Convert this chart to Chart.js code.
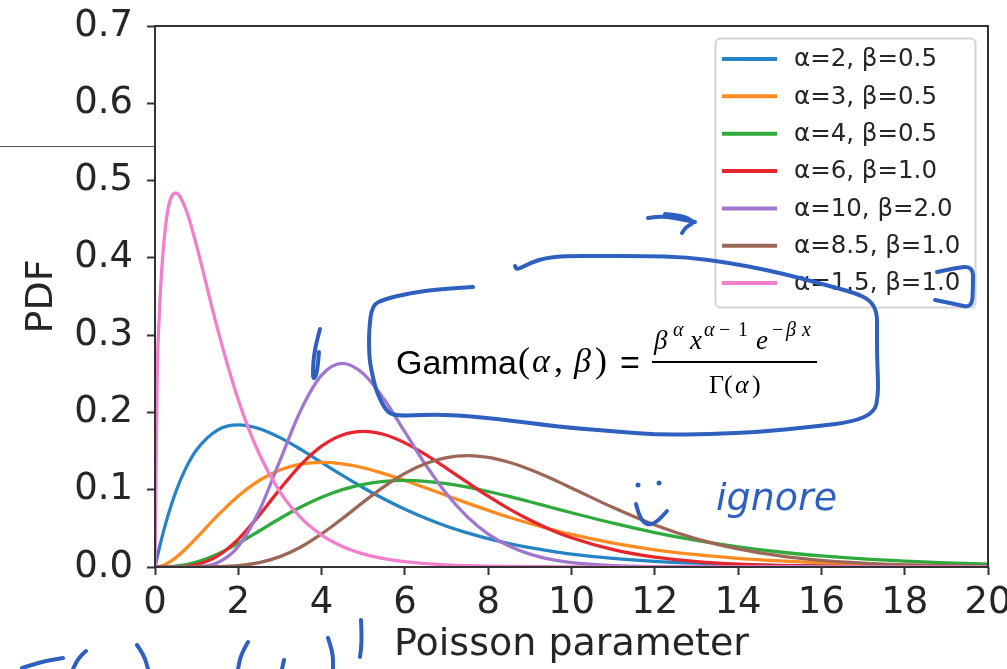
<!DOCTYPE html>
<html>
<head>
<meta charset="utf-8">
<script src="https://cdn.jsdelivr.net/npm/chart.js@4.4.1/dist/chart.umd.min.js"></script>
<style>
html,body{margin:0;padding:0;background:#fff;overflow:hidden}
canvas{display:block}
</style>
</head>
<body>
<canvas id="c" width="1007" height="669"></canvas>
<script>
// ---- data ----
const xs = [0, 0.05, 0.1, 0.25, 0.5, 0.75, 1, 1.5, 2, 2.5, 3, 3.5, 4, 4.5, 5, 5.5, 6, 6.5, 7, 7.5, 8, 8.5, 9, 9.5, 10, 11, 12, 13, 14, 15, 16, 17, 18, 19, 20];

const labels = ["α=2, β=0.5", "α=3, β=0.5", "α=4, β=0.5", "α=6, β=1.0", "α=10, β=2.0", "α=8.5, β=1.0", "α=1.5, β=1.0"];

const pdfA2B05 = [0, 0.0122, 0.0238, 0.0552, 0.0974, 0.1289, 0.1516, 0.1771, 0.1839, 0.1791, 0.1674, 0.1521, 0.1353, 0.1186, 0.1026, 0.0879, 0.0747, 0.0630, 0.0528, 0.0441, 0.0366, 0.0303, 0.0250, 0.0206, 0.0168, 0.0112, 0.0074, 0.0049, 0.0032, 0.0021, 0.0013, 0.0009, 0.0006, 0.0004, 0.0002];
const pdfA3B05 = [0, 0.0002, 0.0006, 0.0034, 0.0122, 0.0242, 0.0379, 0.0664, 0.0920, 0.1119, 0.1255, 0.1330, 0.1353, 0.1334, 0.1283, 0.1209, 0.1120, 0.1024, 0.0925, 0.0827, 0.0733, 0.0644, 0.0563, 0.0488, 0.0421, 0.0309, 0.0223, 0.0159, 0.0112, 0.0078, 0.0054, 0.0037, 0.0025, 0.0017, 0.0011];
const pdfA4B05 = [0, 0, 0, 0.0001, 0.0010, 0.0030, 0.0063, 0.0166, 0.0307, 0.0466, 0.0628, 0.0776, 0.0902, 0.1001, 0.1069, 0.1108, 0.1120, 0.1109, 0.1079, 0.1034, 0.0977, 0.0913, 0.0844, 0.0773, 0.0702, 0.0567, 0.0446, 0.0344, 0.0261, 0.0194, 0.0143, 0.0104, 0.0076, 0.0054, 0.0038];
const pdfA6B1 = [0, 0, 0, 0, 0.0002, 0.0009, 0.0031, 0.0141, 0.0361, 0.0668, 0.1008, 0.1322, 0.1563, 0.1708, 0.1755, 0.1714, 0.1606, 0.1454, 0.1277, 0.1094, 0.0916, 0.0752, 0.0607, 0.0483, 0.0378, 0.0224, 0.0127, 0.0070, 0.0037, 0.0019, 0.0010, 0.0005, 0.0002, 0.0001, 0.0001];
const pdfA10B2 = [0, 0, 0, 0, 0, 0, 0.0004, 0.0054, 0.0265, 0.0725, 0.1377, 0.2028, 0.2482, 0.2635, 0.2502, 0.2171, 0.1747, 0.1321, 0.0947, 0.0648, 0.0426, 0.0271, 0.0167, 0.0100, 0.0058, 0.0019, 0.0005, 0.0002, 0, 0, 0, 0, 0, 0, 0];
const pdfA85B1 = [0, 0, 0, 0, 0, 0, 0, 0.0003, 0.0017, 0.0056, 0.0134, 0.0259, 0.0428, 0.0627, 0.0839, 0.1040, 0.1211, 0.1339, 0.1416, 0.1441, 0.1418, 0.1355, 0.1262, 0.1148, 0.1023, 0.0769, 0.0543, 0.0364, 0.0234, 0.0144, 0.0086, 0.0050, 0.0028, 0.0016, 0.0008];
const pdfA15B1 = [0, 0.2400, 0.3229, 0.4394, 0.4839, 0.4616, 0.4151, 0.3084, 0.2160, 0.1465, 0.0973, 0.0638, 0.0413, 0.0266, 0.0170, 0.0108, 0.0069, 0.0043, 0.0027, 0.0017, 0.0011, 0.0007, 0.0004, 0.0003, 0.0002, 0.0001, 0, 0, 0, 0, 0, 0, 0, 0, 0];

const xTickValues = [0, 2, 4, 6, 8, 10, 12, 14, 16, 18, 20];
const yTickValues = [0, 0.1, 0.2, 0.3, 0.4, 0.5, 0.6, 0.7];

const seriesValues = [pdfA2B05, pdfA3B05, pdfA4B05, pdfA6B1, pdfA10B2, pdfA85B1, pdfA15B1];
const colors = ["#2684c4", "#ff8c22", "#30aa3c", "#e6262f", "#a176cf", "#9c6757", "#f07fcc"];

// ---- styling ----
const TEXT = "#262626";
const AXIS = "#333333";
const INK = "#2f60bf";
Chart.defaults.font.family = '"DejaVu Sans", sans-serif';
Chart.defaults.color = TEXT;

const datasets = seriesValues.map((vals, i) => ({
  label: labels[i],
  data: xs.map((x, j) => ({ x: x, y: vals[j] })),
  borderColor: colors[i],
  backgroundColor: colors[i],
  borderWidth: 3.3,
  pointRadius: 0,
  fill: false,
  cubicInterpolationMode: "monotone",
  borderJoinStyle: "round",
  order: seriesValues.length - i
}));

const framePlugin = {
  id: "frame",
  afterDatasetsDraw(chart) {
    const { ctx, chartArea: a } = chart;
    ctx.save();
    ctx.strokeStyle = AXIS;
    ctx.lineWidth = 2;
    ctx.strokeRect(a.left, a.top, a.right - a.left, a.bottom - a.top);
    ctx.restore();
  }
};

const legendPlugin = {
  id: "innerLegend",
  afterDatasetsDraw(chart) {
    const ctx = chart.ctx;
    const box = { l: 715.5, t: 38.5, w: 260, h: 269, r: 5 };
    ctx.save();
    ctx.beginPath();
    ctx.roundRect(box.l, box.t, box.w, box.h, box.r);
    ctx.fillStyle = "rgba(255,255,255,0.85)";
    ctx.fill();
    ctx.strokeStyle = "#d4d4d4";
    ctx.lineWidth = 2;
    ctx.stroke();
    ctx.font = '24.5px "DejaVu Sans"';
    ctx.textBaseline = "middle";
    ctx.textAlign = "left";
    chart.data.datasets.forEach((ds, i) => {
      const y = 59 + i * 37.35;
      ctx.beginPath();
      ctx.moveTo(722, y);
      ctx.lineTo(777, y);
      ctx.strokeStyle = ds.borderColor;
      ctx.lineWidth = 4;
      ctx.stroke();
      ctx.fillStyle = TEXT;
      ctx.fillText(ds.label, 794, y + 1);
    });
    ctx.restore();
  }
};

// Formula text pasted on the picture
const formulaPlugin = {
  id: "formula",
  afterDraw(chart) {
    const ctx = chart.ctx;
    const put = (txt, font, x, y) => { ctx.font = font; ctx.fillText(txt, x, y); };
    ctx.save();
    ctx.fillStyle = "#000";
    ctx.textBaseline = "alphabetic";
    ctx.textAlign = "left";
    const SANS = '34px "Liberation Sans"';
    const UP = '36px "Liberation Serif"';
    const IT = 'italic 34px "Liberation Serif"';
    const NUM = 'italic 27px "Liberation Serif"';
    const SUP = 'italic 20px "Liberation Serif"';
    const SUPUP = '20px "Liberation Serif"';
    put("Gamma", SANS, 396, 374);
    put("(", UP, 518, 372);
    put("α", IT, 532, 372);
    put(",", UP, 554, 372);
    put("β", IT, 574, 372);
    put(")", UP, 595, 372);
    put("=", SANS, 620, 374);
    // numerator
    put("β", NUM, 654, 349);
    put("α", SUP, 673, 336);
    put("x", NUM, 690, 349);
    put("α", SUP, 704, 336);
    put("−", SUPUP, 719, 336);
    put("1", SUPUP, 738, 336);
    put("e", NUM, 756, 349);
    put("−", SUPUP, 772, 336);
    put("β", SUP, 786, 336);
    put("x", SUP, 802, 336);
    // fraction bar
    ctx.fillRect(652, 361, 165, 2);
    // denominator
    put("Γ(", '26px "Liberation Serif"', 709, 393);
    put("α", 'italic 26px "Liberation Serif"', 735, 393);
    put(")", '26px "Liberation Serif"', 752, 393);
    ctx.restore();
  }
};

// Hand-drawn pen overlay (not data)
const inkStrokes = [
  [[473,287],[440,289],[410,293],[385,299],[372,305],[369,330],[369,350],[370,363],[373,378],[377,393],[387,413],[400,416],[443,414],[500,419],[560,427],[610,431],[660,435],[710,434],[760,432],[810,427],[853,422],[875,412],[878,395],[878,380],[877,355],[877,330],[877,312],[870,300],[855,293],[833,287],[800,278],[767,270],[730,263],[687,257],[640,256],[600,256],[565,256],[545,258],[530,263],[517,270],[515,266]],
  [[648,218],[660,216],[675,218],[695,222]],
  [[665,214],[681,215],[695,222],[686,227],[682,233]],
  [[937,272],[955,268],[973,266],[973,287],[972,308],[955,304],[935,300]],
  [[320,329],[317,340],[314,355],[313,368],[313,380],[317,374],[319,352]],
  [[636,504],[639,516],[646,525],[656,523],[667,511]],
  [[22,668],[40,662],[63,658]],
  [[86,651],[79,657],[73,669]],
  [[137,645],[144,655],[148,669]],
  [[248,642],[241,654],[238,669]],
  [[284,660],[282,669]],
  [[328,638],[333,652],[333,669]],
  [[361,620],[362,640],[360,657]]
];
const inkDots = [[638,485],[659,483]];

const inkPlugin = {
  id: "ink",
  afterDraw(chart) {
    const ctx = chart.ctx;
    ctx.save();
    // thin rule at the top-left from the pasted slide
    ctx.strokeStyle = "#555";
    ctx.lineWidth = 1;
    ctx.beginPath();
    ctx.moveTo(0, 146.5);
    ctx.lineTo(154, 146.5);
    ctx.stroke();
    ctx.strokeStyle = INK;
    ctx.fillStyle = INK;
    ctx.lineWidth = 4;
    ctx.lineCap = "round";
    ctx.lineJoin = "round";
    inkStrokes.forEach(pts => {
      ctx.beginPath();
      ctx.moveTo(pts[0][0], pts[0][1]);
      for (let i = 1; i < pts.length - 1; i++) {
        const mx = (pts[i][0] + pts[i + 1][0]) / 2;
        const my = (pts[i][1] + pts[i + 1][1]) / 2;
        ctx.quadraticCurveTo(pts[i][0], pts[i][1], mx, my);
      }
      const last = pts[pts.length - 1];
      ctx.lineTo(last[0], last[1]);
      ctx.stroke();
    });
    inkDots.forEach(p => {
      ctx.beginPath();
      ctx.arc(p[0], p[1], 2.5, 0, Math.PI * 2);
      ctx.fill();
    });
    ctx.font = 'italic 38px "DejaVu Sans"';
    ctx.textBaseline = "alphabetic";
    ctx.fillText("ignore", 716, 510);
    ctx.restore();
  }
};

new Chart(document.getElementById("c"), {
  type: "line",
  data: { datasets: datasets },
  options: {
    responsive: false,
    animation: false,
    devicePixelRatio: 1,
    layout: { padding: { top: 26, right: 19, left: 0, bottom: 0 } },
    plugins: { legend: { display: false }, tooltip: { enabled: false } },
    scales: {
      x: {
        type: "linear",
        min: 0,
        max: 20,
        afterBuildTicks(s) { s.ticks = xTickValues.map(v => ({ value: v })); },
        afterFit(s) { s.height = 102; s.paddingLeft = 0; s.paddingRight = 0; },
        border: { display: false },
        grid: { display: true, drawOnChartArea: false, drawTicks: true, tickLength: 8, tickWidth: 2, tickColor: AXIS },
        ticks: { autoSkip: false, maxRotation: 0, padding: 6, color: TEXT, font: { size: 37 }, callback: v => String(v) },
        title: { display: true, text: "Poisson parameter", color: TEXT, font: { size: 38 }, padding: { top: 0, bottom: 1 } }
      },
      y: {
        type: "linear",
        min: 0,
        max: 0.7,
        afterBuildTicks(s) { s.ticks = yTickValues.map(v => ({ value: v })); },
        afterFit(s) { s.width = 155; s.paddingTop = 0; s.paddingBottom = 0; },
        border: { display: false },
        grid: { display: true, drawOnChartArea: false, drawTicks: true, tickLength: 8, tickWidth: 2, tickColor: AXIS },
        ticks: { padding: 14, color: TEXT, font: { size: 37 }, callback: v => Number(v).toFixed(1) },
        title: { display: true, text: "PDF", color: TEXT, font: { size: 38 }, padding: { top: 19, bottom: 0 } }
      }
    }
  },
  plugins: [framePlugin, legendPlugin, formulaPlugin, inkPlugin]
});
</script>
</body>
</html>
